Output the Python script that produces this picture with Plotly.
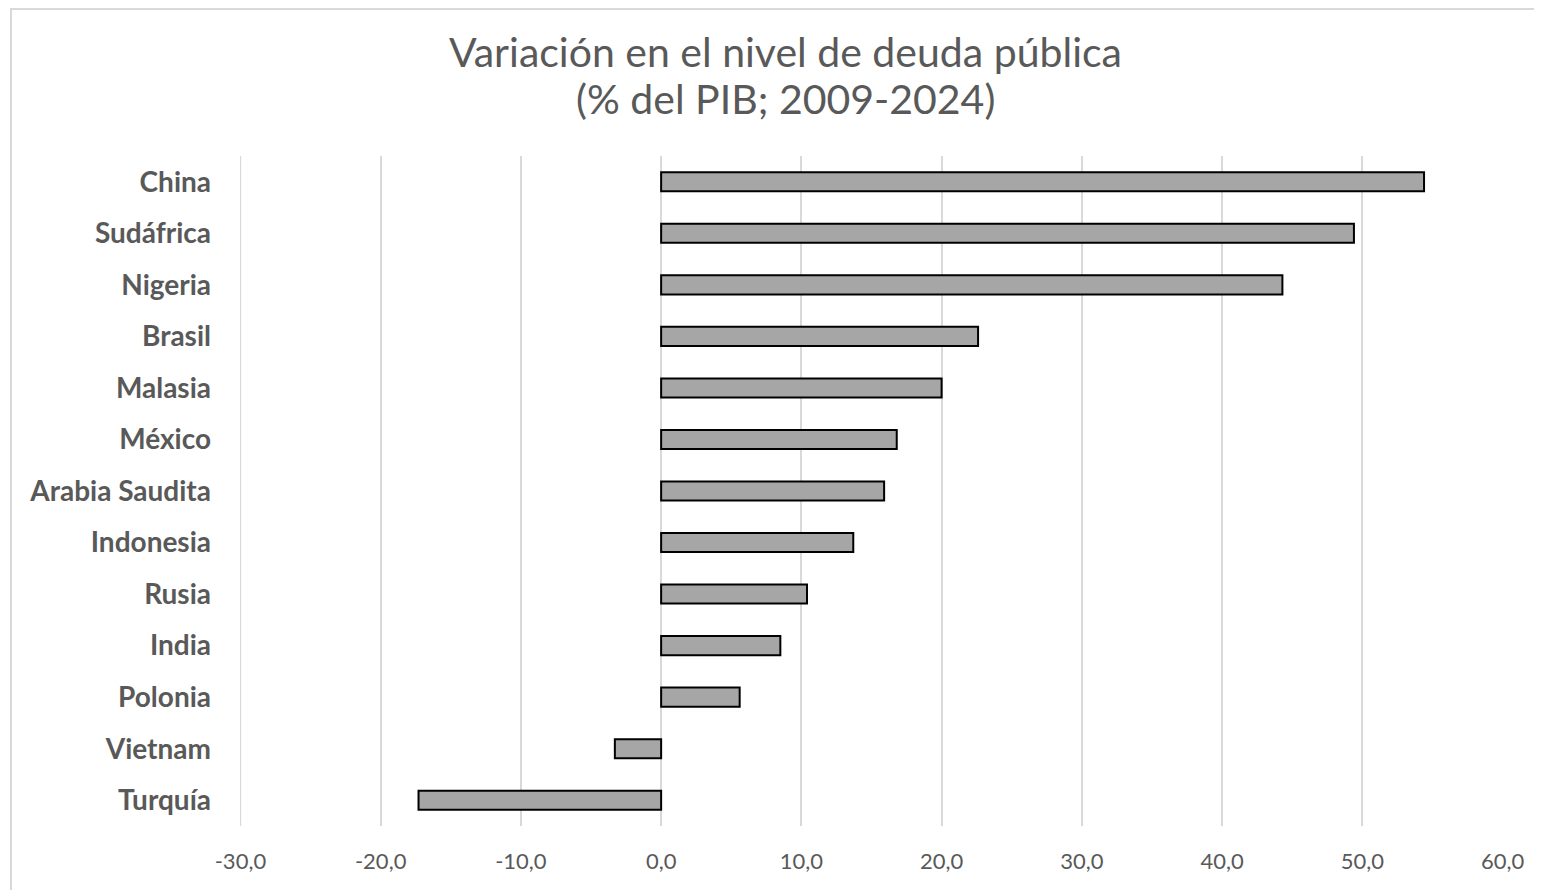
import plotly.graph_objects as go

countries = ["China", "Sudáfrica", "Nigeria", "Brasil", "Malasia", "México",
             "Arabia Saudita", "Indonesia", "Rusia", "India", "Polonia",
             "Vietnam", "Turquía"]
values = [54.4, 49.4, 44.3, 22.6, 20.0, 16.8, 15.9, 13.7, 10.4, 8.5, 5.6, -3.3, -17.3]
x_ticks = [-30, -20, -10, 0, 10, 20, 30, 40, 50, 60]
x_tick_labels = ["-30,0", "-20,0", "-10,0", "0,0", "10,0", "20,0", "30,0", "40,0", "50,0", "60,0"]
title_lines = ["Variación en el nivel de deuda pública", "(% del PIB; 2009-2024)"]

# page has an 8px body margin: work in figure coordinates = screen - 8
OFF = 8
W, H = 1542 - OFF, 890 - OFF
L, R, T, B = 240 - OFF, 1503 - OFF, 156 - OFF, 826 - OFF
pw, ph = R - L, B - T

fig = go.Figure()
fig.add_trace(go.Bar(
    y=countries, x=values, orientation="h", width=0.37,
    marker=dict(color="#a6a6a6", line=dict(color="#000000", width=2)),
    hoverinfo="x+y",
))

fig.update_layout(
    width=W, height=H,
    margin=dict(l=L, r=W - R, t=T, b=H - B, pad=0),
    paper_bgcolor="white", plot_bgcolor="white",
    showlegend=False,
    xaxis=dict(
        range=[-30.03, 60.03], tickvals=x_ticks, ticktext=x_tick_labels,
        showgrid=True, gridcolor="#d9d9d9", gridwidth=1.5,
        zeroline=False, showline=False, ticks="",
        tickfont=dict(family="Lato, Open Sans, sans-serif", size=22, color="#595959"),
        ticklabelstandoff=20,
    ),
    yaxis=dict(
        categoryorder="array", categoryarray=countries[::-1],
        range=[-0.5, len(countries) - 0.5],
        showgrid=False, zeroline=False, showline=False, ticks="",
        tickfont=dict(family="Lato, Open Sans, sans-serif", size=28, color="#595959", weight="bold"),
        ticklabelstandoff=28,
    ),
    font=dict(family="Lato, sans-serif", color="#595959"),
)

# gridline at the left range end (plotly drops edge gridlines)
fig.add_shape(type="line", xref="x", yref="paper", x0=x_ticks[0], x1=x_ticks[0],
              y0=0, y1=1, line=dict(color="#d9d9d9", width=1.5), layer="below")

for line, ys in zip(title_lines, [52, 98]):
    fig.add_annotation(
        text=line, xref="paper", yref="paper",
        x=(785 - OFF - L) / pw, y=(B - (ys - OFF)) / ph,
        xanchor="center", yanchor="middle", showarrow=False,
        font=dict(family="Lato, Open Sans, sans-serif", size=41, color="#595959"),
    )

fig.add_shape(
    type="rect", xref="paper", yref="paper",
    x0=(11 - OFF - L) / pw, x1=(1560 - L) / pw,
    y0=(B - 900) / ph, y1=(B - 1) / ph,
    line=dict(color="#d9d9d9", width=2), layer="below",
)

fig.write_html("out.html")
